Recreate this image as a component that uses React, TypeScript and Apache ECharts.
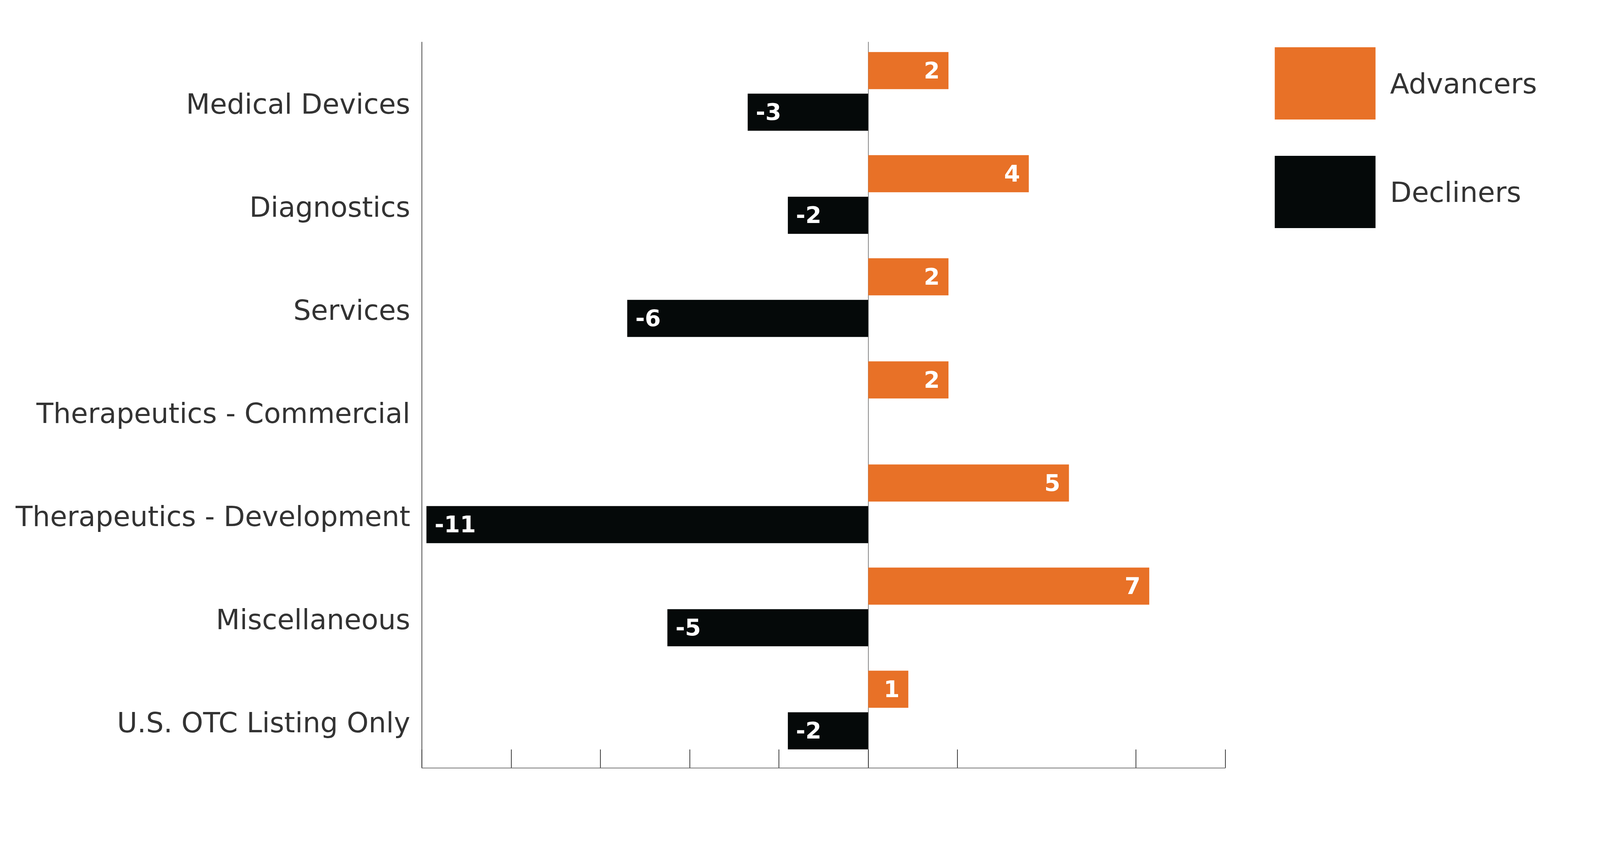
import React, { useEffect, useRef } from "react";
import * as echarts from "echarts";

const categories = [
  "Medical Devices",
  "Diagnostics",
  "Services",
  "Therapeutics - Commercial",
  "Therapeutics - Development",
  "Miscellaneous",
  "U.S. OTC Listing Only",
];
const advancers = [2, 4, 2, 2, 5, 7, 1];
const decliners = [-3, -2, -6, null, -11, -5, -2];
const seriesNames = ["Advancers", "Decliners"];
const axisMin = -100 / 9;
const axisMax = 80 / 9;
const axisInterval = 20 / 9;
// tick marks drawn on the value axis (the reference omits the one at 40/9)
const tickValues = [-100 / 9, -80 / 9, -60 / 9, -40 / 9, -20 / 9, 0, 20 / 9, 60 / 9, 80 / 9];

const ORANGE = "#E87127";
const BLACK = "#050909";
const FONT = "'DejaVu Sans', 'Open Sans', sans-serif";

const REF_W = 5335;
const REF_H = 2202;

export default function App() {
  const ref = useRef<HTMLDivElement>(null);
  useEffect(() => {
    document.body.style.margin = "0";
    document.body.style.overflow = "hidden";
    const el = ref.current;
    if (!el) return;
    const W = window.innerWidth || REF_W;
    const H = window.innerHeight || REF_H;
    el.style.width = W + "px";
    el.style.height = H + "px";
    const sx = W / REF_W;
    const sy = H / REF_H;
    const sf = Math.min(Math.sqrt(sx * sy), sx * 1.15, sy);
    const X = (v: number) => v * sx;
    const Y = (v: number) => v * sy;
    const F = (v: number) => v * sf;

    const chart = echarts.init(el, undefined, { renderer: "svg" });
    const gridLeft = X(1407);
    const gridRight = X(REF_W - 4085);
    chart.setOption({
      animation: false,
      backgroundColor: "#ffffff",
      grid: [
        { left: gridLeft, right: gridRight, top: Y(102), height: Y(1848) },
        { left: gridLeft, right: gridRight, top: Y(108), height: Y(1858) },
        { left: gridLeft, right: gridRight, top: Y(108), height: Y(1858) },
      ],
      legend: {
        data: seriesNames,
        orient: "vertical",
        left: X(4244),
        top: Y(116),
        itemWidth: X(336),
        itemHeight: Y(185),
        itemGap: Y(93),
        icon: "rect",
        textStyle: {
          fontSize: F(82),
          color: "#333333",
          fontFamily: FONT,
          padding: [0, 0, 0, X(42)],
        },
      },
      xAxis: [
        {
          gridIndex: 0,
          type: "value",
          min: axisMin,
          max: axisMax,
          interval: axisInterval,
          show: false,
        },
        {
          gridIndex: 1,
          type: "value",
          min: axisMin,
          max: axisMax,
          interval: axisInterval,
          axisLine: { show: true, onZero: false, lineStyle: { color: "#8f8f8f", width: F(3) } },
          axisTick: {
            show: true,
            inside: true,
            length: Y(47),
            customValues: tickValues,
            lineStyle: { color: "#222222", width: F(2) },
          },
          axisLabel: { show: false },
          splitLine: { show: false },
        },
        {
          gridIndex: 2,
          type: "value",
          min: axisMin,
          max: axisMax,
          interval: axisInterval,
          show: false,
        },
      ],
      yAxis: [
        {
          gridIndex: 0,
          type: "category",
          data: categories,
          inverse: true,
          axisLine: { show: false },
          axisTick: { show: false },
          axisLabel: {
            fontSize: F(81),
            color: "#333333",
            fontFamily: FONT,
            margin: X(39),
            verticalAlign: "top",
            lineHeight: Y(64),
          },
        },
        {
          gridIndex: 1,
          type: "category",
          data: categories,
          inverse: true,
          axisLine: { show: true, onZero: true, lineStyle: { color: "#777777", width: F(2) } },
          axisTick: { show: false },
          axisLabel: { show: false },
        },
        {
          gridIndex: 2,
          type: "category",
          data: categories,
          inverse: true,
          axisLine: { show: true, onZero: false, lineStyle: { color: "#333333", width: F(2) } },
          axisTick: { show: false },
          axisLabel: { show: false },
        },
      ],
      series: [
        {
          name: seriesNames[0],
          type: "bar",
          xAxisIndex: 0,
          yAxisIndex: 0,
          data: advancers,
          barWidth: Y(95),
          barGap: "12%",
          itemStyle: { color: ORANGE },
          label: {
            show: true,
            position: "insideRight",
            distance: X(29),
            color: "#ffffff",
            fontSize: F(67),
            fontWeight: "bold",
            fontFamily: FONT,
          },
        },
        {
          name: seriesNames[1],
          type: "bar",
          xAxisIndex: 0,
          yAxisIndex: 0,
          data: decliners,
          barWidth: Y(95),
          barGap: "12%",
          itemStyle: { color: BLACK },
          label: {
            show: true,
            position: "insideLeft",
            distance: X(27),
            color: "#ffffff",
            fontSize: F(67),
            fontWeight: "bold",
            fontFamily: FONT,
          },
        },
      ],
    });
    return () => chart.dispose();
  }, []);
  return <div ref={ref} style={{ width: REF_W, height: REF_H }} />;
}
